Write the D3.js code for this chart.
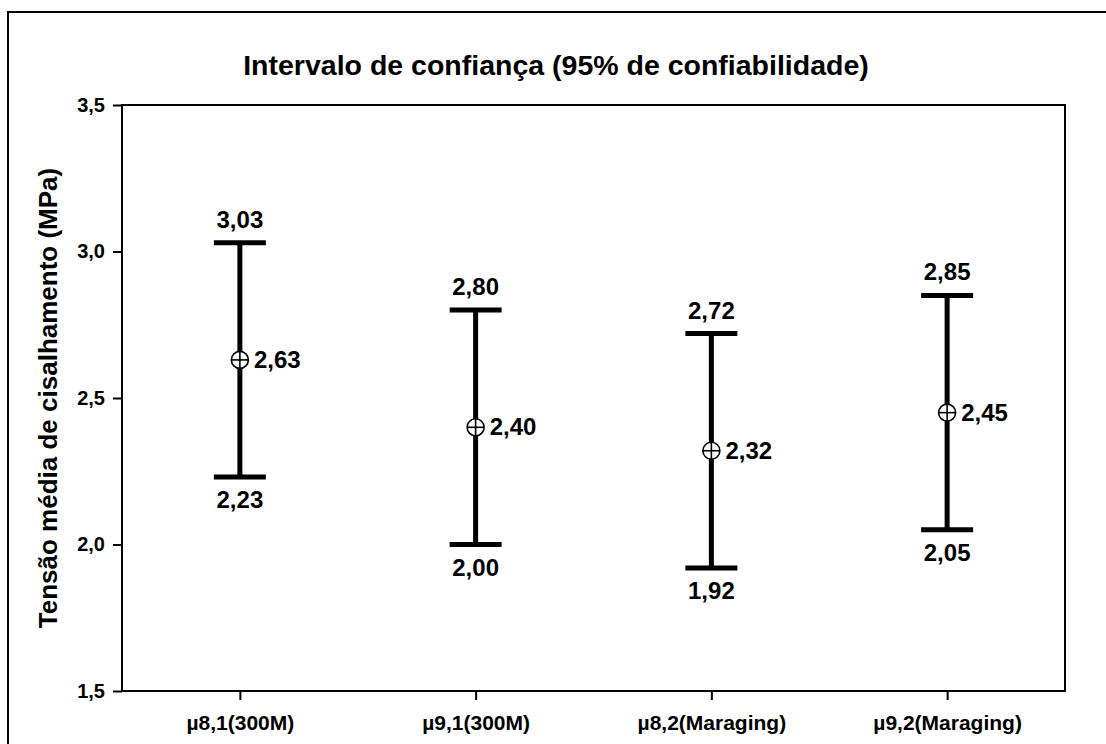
<!DOCTYPE html>
<html>
<head>
<meta charset="utf-8">
<script src="https://cdn.jsdelivr.net/npm/d3@7"></script>
<style>
  html, body { margin: 0; padding: 0; background: #fff; }
  svg { display: block; }
  text { font-family: "Liberation Sans", Arial, sans-serif; font-weight: bold; fill: #000; }
</style>
</head>
<body>
<svg id="chart" width="1106" height="744"></svg>
<script>
// Confidence intervals (95%) of mean shear stress per group
const categories = ["µ8,1(300M)", "µ9,1(300M)", "µ8,2(Maraging)", "µ9,2(Maraging)"];
const means = [2.63, 2.40, 2.32, 2.45];
const lowerBounds = [2.23, 2.00, 1.92, 2.05];
const upperBounds = [3.03, 2.80, 2.72, 2.85];
const yTicks = [1.5, 2.0, 2.5, 3.0, 3.5];

const svg = d3.select("#chart");
const plot = { left: 122, right: 1065, top: 105, bottom: 691 };

const fmt = d3.formatLocale({ decimal: ",", thousands: ".", grouping: [3], currency: ["", ""] });
const f1 = fmt.format(".1f");
const f2 = fmt.format(".2f");

const x = d3.scalePoint().domain(categories).range([plot.left, plot.right]).padding(0.5);
const y = d3.scaleLinear().domain([1.5, 3.5]).range([plot.bottom, plot.top]);

// outer frame
svg.append("rect")
  .attr("x", 8).attr("y", 12).attr("width", 1120).attr("height", 760)
  .attr("fill", "none").attr("stroke", "#000").attr("stroke-width", 2);

// title
svg.append("text")
  .attr("x", 556).attr("y", 75)
  .attr("text-anchor", "middle")
  .style("font-size", "28.5px")
  .text("Intervalo de confiança (95% de confiabilidade)");

// plot frame
svg.append("rect")
  .attr("x", plot.left).attr("y", plot.top)
  .attr("width", plot.right - plot.left).attr("height", plot.bottom - plot.top)
  .attr("fill", "none").attr("stroke", "#000").attr("stroke-width", 2);

// y axis
const yAxis = d3.axisLeft(y).tickValues(yTicks).tickFormat(f1).tickSize(9).tickPadding(8);
const gy = svg.append("g").attr("transform", `translate(${plot.left},0)`).call(yAxis);
gy.select(".domain").remove();
gy.selectAll("line").attr("stroke", "#000").attr("stroke-width", 2);
gy.selectAll("text").style("font-size", "20px").attr("font-family", null).attr("fill", "#000");

// x axis
const xAxis = d3.axisBottom(x).tickSize(9).tickPadding(15);
const gx = svg.append("g").attr("transform", `translate(0,${plot.bottom})`).call(xAxis);
gx.select(".domain").remove();
gx.selectAll("line").attr("stroke", "#000").attr("stroke-width", 2);
gx.selectAll("text").style("font-size", "21px").attr("font-family", null).attr("fill", "#000");

// y axis title
svg.append("text")
  .attr("transform", `translate(57,${(plot.top + plot.bottom) / 2}) rotate(-90)`)
  .attr("text-anchor", "middle")
  .style("font-size", "26px")
  .text("Tensão média de cisalhamento (MPa)");

// intervals
const rows = categories.map((c, i) => ({ c, m: means[i], lo: lowerBounds[i], hi: upperBounds[i] }));
const capHalf = 26;
const r = 8.5;

const g = svg.append("g").selectAll("g").data(rows).join("g");

g.append("line")
  .attr("x1", d => x(d.c)).attr("x2", d => x(d.c))
  .attr("y1", d => y(d.hi)).attr("y2", d => y(d.lo))
  .attr("stroke", "#000").attr("stroke-width", 5);

g.append("line")
  .attr("x1", d => x(d.c) - capHalf).attr("x2", d => x(d.c) + capHalf)
  .attr("y1", d => y(d.hi)).attr("y2", d => y(d.hi))
  .attr("stroke", "#000").attr("stroke-width", 5);

g.append("line")
  .attr("x1", d => x(d.c) - capHalf).attr("x2", d => x(d.c) + capHalf)
  .attr("y1", d => y(d.lo)).attr("y2", d => y(d.lo))
  .attr("stroke", "#000").attr("stroke-width", 5);

// mean marker: circle with cross
g.append("circle")
  .attr("cx", d => x(d.c)).attr("cy", d => y(d.m)).attr("r", r)
  .attr("fill", "#fff").attr("stroke", "#000").attr("stroke-width", 1.6);
g.append("line")
  .attr("x1", d => x(d.c) - r).attr("x2", d => x(d.c) + r)
  .attr("y1", d => y(d.m)).attr("y2", d => y(d.m))
  .attr("stroke", "#000").attr("stroke-width", 1.6);
g.append("line")
  .attr("x1", d => x(d.c)).attr("x2", d => x(d.c))
  .attr("y1", d => y(d.m) - r).attr("y2", d => y(d.m) + r)
  .attr("stroke", "#000").attr("stroke-width", 1.6);

// value labels
g.append("text")
  .attr("x", d => x(d.c)).attr("y", d => y(d.hi) - 15)
  .attr("text-anchor", "middle").style("font-size", "24px")
  .text(d => f2(d.hi));
g.append("text")
  .attr("x", d => x(d.c)).attr("y", d => y(d.lo) + 31)
  .attr("text-anchor", "middle").style("font-size", "24px")
  .text(d => f2(d.lo));
g.append("text")
  .attr("x", d => x(d.c) + 14).attr("y", d => y(d.m) + 8)
  .attr("text-anchor", "start").style("font-size", "24px")
  .text(d => f2(d.m));
</script>
</body>
</html>
